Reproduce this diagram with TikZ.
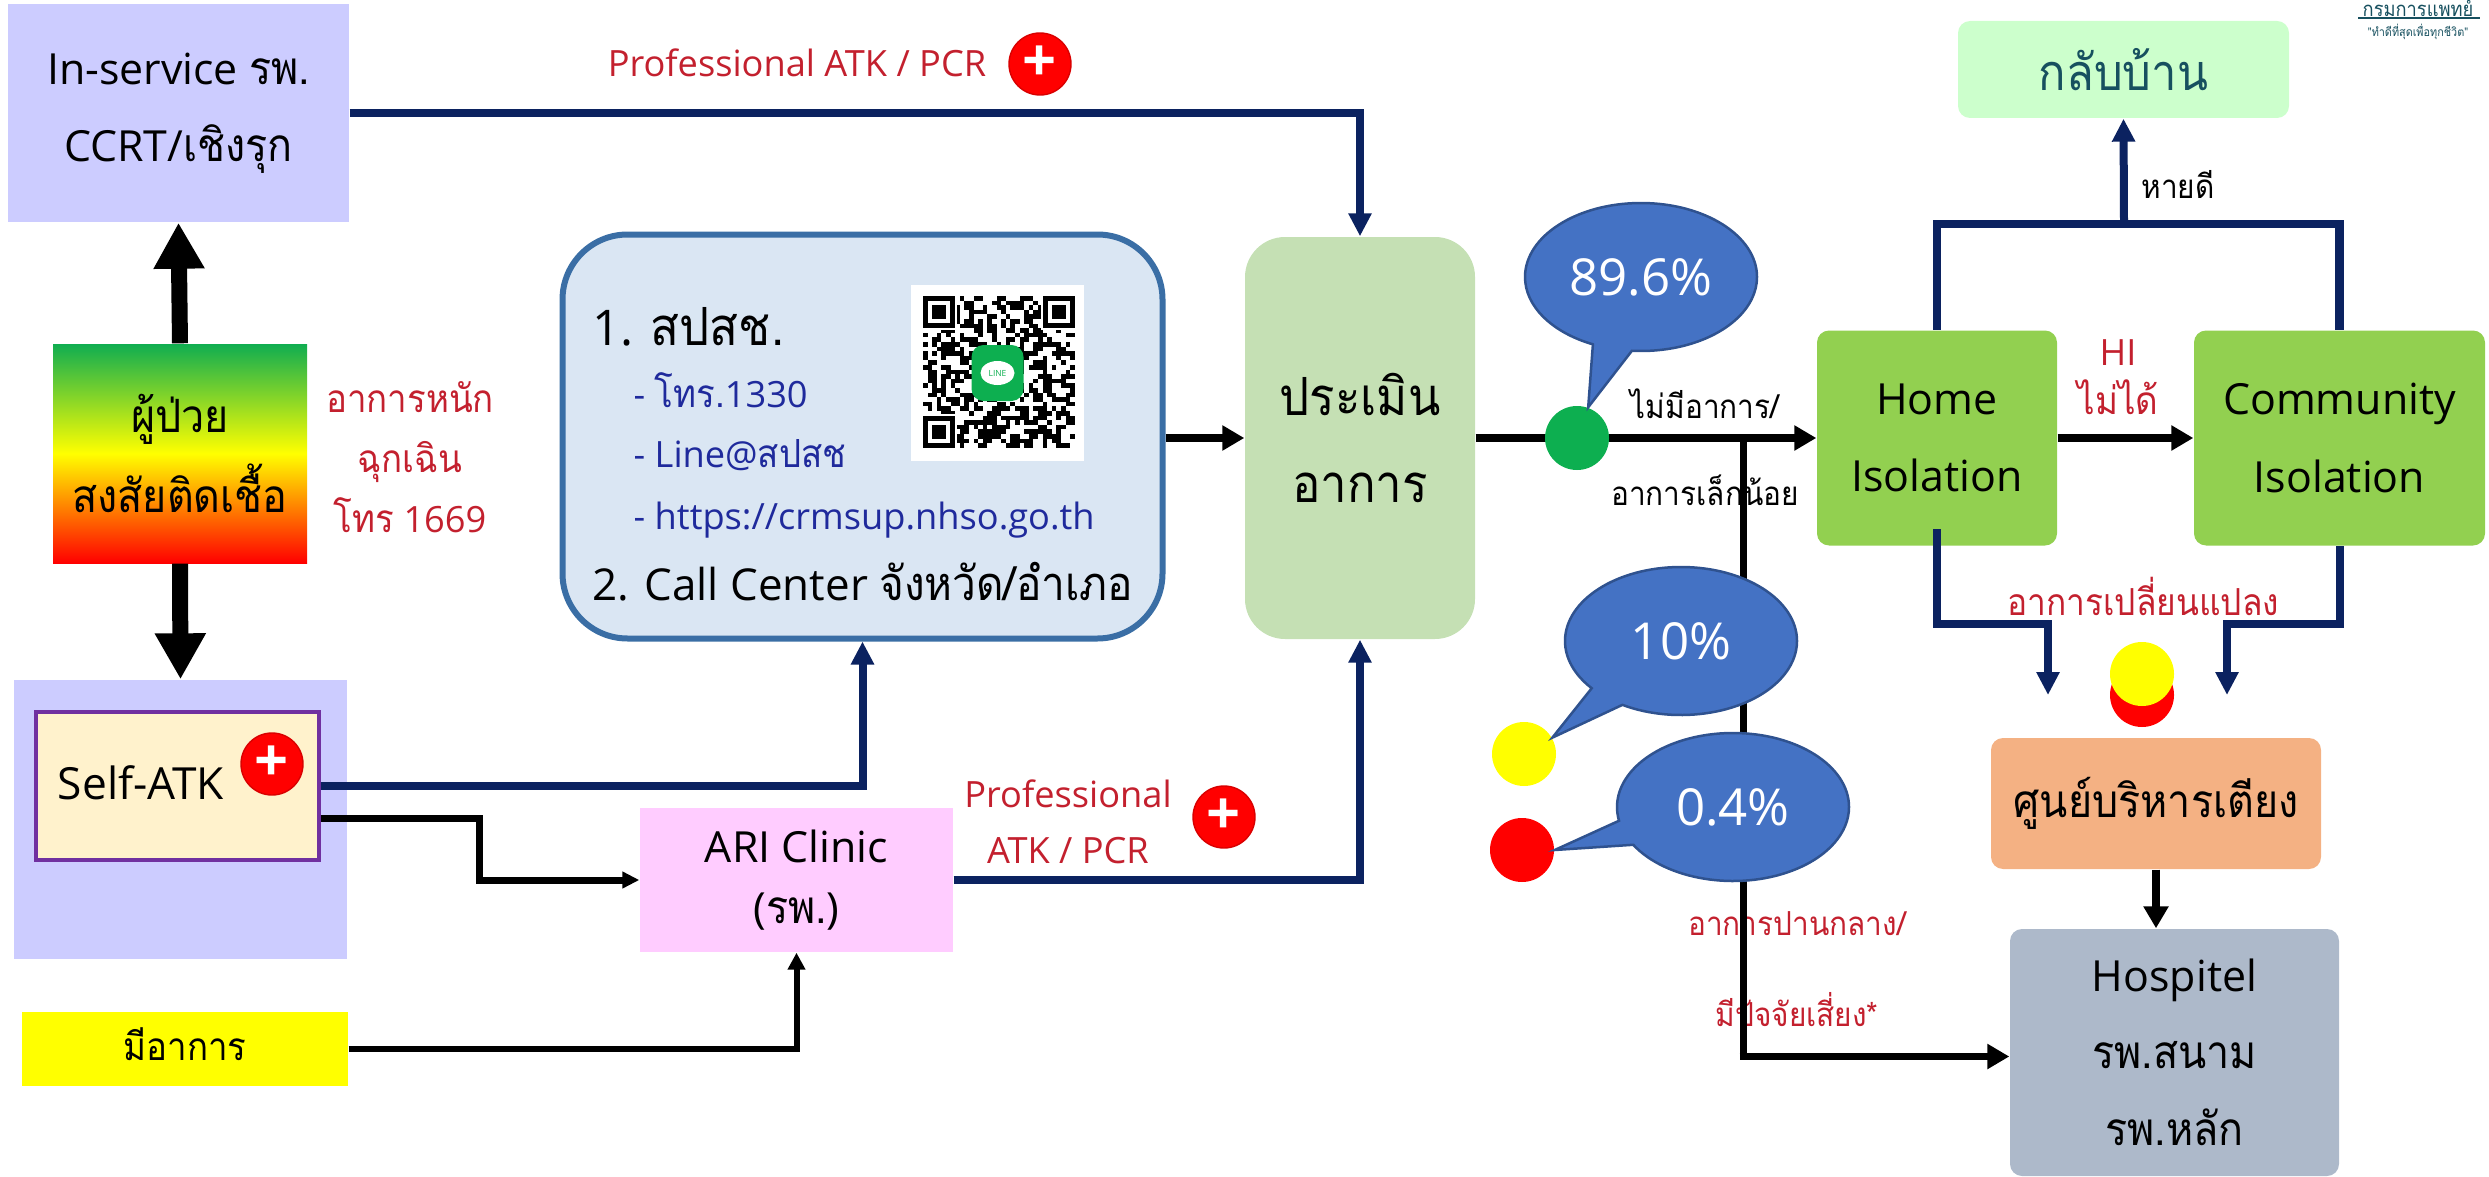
\documentclass[tikz,border=0pt]{standalone}
\usepackage{fontspec}
\usepackage{tikz}
\usetikzlibrary{arrows.meta}
\usetikzlibrary{shapes.geometric}
\usetikzlibrary{shapes.callouts}
\usetikzlibrary{calc}
\setmainfont{Open Sans}
\newfontfamily\thaifont[Script=Thai,Scale=1.07,FakeStretch=0.9]{Loma}
\newcommand{\tha}[1]{{\thaifont #1}}

\newcommand{\boxfont}{\fontsize{12.2}{22}\selectfont}
\newcommand{\bigfont}{\fontsize{14}{25}\selectfont}
\newcommand{\midfont}{\fontsize{10.3}{14}\selectfont}
\newcommand{\smallfont}{\fontsize{8.8}{14}\selectfont}

\definecolor{boxlilac}{HTML}{CCCCFF}
\definecolor{boxpink}{HTML}{FFCCFF}
\definecolor{boxcream}{HTML}{FFF2CC}
\definecolor{boxpurple}{HTML}{7030A0}
\definecolor{boxsage}{HTML}{C5E0B4}
\definecolor{boxgreen}{HTML}{92D050}
\definecolor{boxmint}{HTML}{CCFFCC}
\definecolor{boxorange}{HTML}{F4B183}
\definecolor{boxslate}{HTML}{ADB9CA}
\definecolor{callfill}{HTML}{DAE6F3}
\definecolor{calledge}{HTML}{3A6EA5}
\definecolor{bubblefill}{HTML}{4472C4}
\definecolor{bubbleedge}{HTML}{2F528F}
\definecolor{navyline}{HTML}{0B2260}
\definecolor{redtext}{HTML}{C3202E}
\definecolor{bluetext}{HTML}{1F2A9C}
\definecolor{tealtext}{HTML}{17505F}
\definecolor{dotgreen}{HTML}{0DAF50}
\definecolor{topgreen}{HTML}{10AD50}
\definecolor{pureyellow}{RGB}{255,255,0}
\definecolor{purered}{RGB}{255,0,0}

\tikzset{
  flowbox/.style={rectangle,inner sep=0pt,align=center,font=\boxfont},
  roundbox/.style={flowbox,rounded corners=1.2mm},
  redlabel/.style={inner sep=0pt,align=center,text=redtext,font=\midfont},
  darklabel/.style={inner sep=0pt,align=center,font=\smallfont},
  calltext/.style={inner sep=0pt,anchor=west,font=\boxfont},
  bluelabel/.style={inner sep=0pt,anchor=west,text=bluetext,font=\fontsize{10.3}{14}\selectfont},
  plusdot/.style={circle,fill=purered,draw=purered!85!black,inner sep=0pt,minimum size=6.2mm,text=white,font=\bfseries\fontsize{17}{17}\selectfont},
  statusdot/.style={circle,inner sep=0pt,minimum size=6.4mm},
  pctbubble/.style={ellipse callout,fill=bubblefill,draw=bubbleedge,line width=0.25mm,inner sep=0pt,
    minimum width=23.2mm,minimum height=14.8mm,callout pointer arc=20,text=white,font=\fontsize{14.5}{16}\selectfont},
  fatline/.style={line width=1.6mm,-{Triangle[length=4.6mm,width=4.8mm]}},
  navyarrow/.style={navyline,line width=0.8mm,-{Triangle[length=2.3mm,width=2.2mm]}},
  navyplain/.style={navyline,line width=0.85mm},
  blackarrow/.style={line width=0.75mm,-{Triangle[length=2.2mm,width=2.4mm]}},
  shortarrow/.style={line width=0.7mm,-{Triangle[length=1.7mm,width=1.6mm]}},
  thinarrow/.style={line width=0.6mm,-{Triangle[length=1.7mm,width=1.7mm]}}
}

\begin{document}
\begin{tikzpicture}[x=0.1mm,y=-0.1mm]
\useasboundingbox (0,0) rectangle (2489,1177);
\clip (0,0) rectangle (2489,1177);

% Draw the boxes on the left
\node[flowbox,fill=boxlilac,minimum width=34.1mm,minimum height=21.8mm](inservice) at (178.5,113){In-service \tha{รพ.}\\CCRT/\tha{เชิงรุก}};
\node[flowbox,minimum width=25.4mm,minimum height=21.9mm,top color=topgreen,bottom color=purered,middle color=pureyellow](patient) at (180,453.5){\tha{ผู้ป่วย}\\[1pt]\tha{สงสัยติดเชื้อ}};
\node[flowbox,fill=boxlilac,minimum width=33.3mm,minimum height=27.9mm](selfouter) at (180.5,819.5){};
\node[flowbox,fill=boxcream,draw=boxpurple,line width=0.35mm,minimum width=28.3mm,minimum height=14.8mm](selfatk) at (177.5,786){};
\node[inner sep=0pt,font=\fontsize{12.6}{16}\selectfont](selftext) at (141,783){Self-ATK};
\node[plusdot](selfplus) at (272,764){+};
\node[flowbox,fill=pureyellow,font=\midfont,minimum width=32.6mm,minimum height=7.4mm](symptom) at (185,1049){\raisebox{1mm}{\tha{มีอาการ}}};
\node[flowbox,fill=boxpink,minimum width=31.3mm,minimum height=14.4mm](ari) at (796.5,880){\raisebox{0.5mm}{ARI Clinic}\\[-4.5pt]\raisebox{0.5mm}{(\tha{รพ.})}};
\node[redlabel](emergency) at (410,457){\tha{อาการหนัก}\\[3pt]\tha{ฉุกเฉิน}\\[3pt]\tha{โทร} 1669};

% Draw the call centre box with its QR code
\node[rectangle,rounded corners=6.5mm,fill=callfill,draw=calledge,line width=0.6mm,inner sep=0pt,minimum width=60mm,minimum height=40.4mm](callbox) at (862.5,436.5){};
\node[calltext,font=\fontsize{14}{16}\selectfont](calltitle) at (592,327){1. \tha{สปสช.}};
\node[bluelabel](calltel) at (633,390){- \tha{โทร.}1330};
\node[bluelabel](callline) at (633,455){- Line@\tha{สปสช}};
\node[bluelabel](callweb) at (633,520){- https://crmsup.nhso.go.th};
\node[calltext,font=\fontsize{12.5}{16}\selectfont](callcenter) at (592,582){2. Call Center \tha{จังหวัด/อำเภอ}};
\node[rectangle,fill=white,inner sep=0pt,minimum width=17.3mm,minimum height=17.6mm](qrcode) at (997.5,373){};
\pgfmathsetseed{4242}
\foreach \col in {0,...,32}{
  \foreach \row in {0,...,32}{
    \pgfmathrandominteger{\bit}{0}{1}
    \ifnum\bit=1
      \fill (923+\col*4.6,296+\row*4.6) rectangle ++(4.6,4.6);
    \fi
  }
}
\foreach \fx/\fy in {923/296,1043/296,923/416}{
  \fill[white] (\fx-2,\fy-2) rectangle ++(36,36);
  \fill (\fx,\fy) rectangle ++(32,32);
  \fill[white] (\fx+4.6,\fy+4.6) rectangle ++(22.8,22.8);
  \fill (\fx+9.2,\fy+9.2) rectangle ++(13.6,13.6);
}
\node[rectangle,rounded corners=1.2mm,fill=dotgreen,minimum width=5.2mm,minimum height=5.6mm,inner sep=0pt](qrlogo) at (qrcode){};
\node[ellipse,fill=white,minimum width=3.4mm,minimum height=2.4mm,inner sep=0pt,text=dotgreen,font=\fontsize{2.4}{3}\selectfont](qrword) at (qrcode){LINE};

% Draw the boxes in the middle and on the right
\node[flowbox,rounded corners=4mm,fill=boxsage,font=\bigfont,minimum width=23mm,minimum height=40.2mm](assess) at (1360,438){\tha{ประเมิน}\\\tha{อาการ}};
\node[roundbox,fill=boxmint,text=tealtext,font=\fontsize{13.4}{16}\selectfont,minimum width=33.1mm,minimum height=9.7mm](gohome) at (2123.5,69.5){\tha{กลับบ้าน}};
\node[roundbox,fill=boxgreen,minimum width=24mm,minimum height=21.5mm](home) at (1937,438){Home\\Isolation};
\node[roundbox,fill=boxgreen,minimum width=29.1mm,minimum height=21.5mm](community) at (2339.5,438){Community\\Isolation};
\node[roundbox,fill=boxorange,minimum width=33mm,minimum height=13.1mm](bedcentre) at (2156,803.5){\tha{ศูนย์บริหารเตียง}};
\node[roundbox,fill=boxslate,minimum width=32.9mm,minimum height=24.7mm](hospitel) at (2174.5,1052.5){Hospitel\\\tha{รพ.สนาม}\\\tha{รพ.หลัก}};

% Draw the labels
\node[redlabel](topprof) at (797,63){Professional ATK / PCR};
\node[plusdot](topplus) at (1040,64){+};
\node[redlabel](ariprof) at (1068,822){Professional\\[2pt]ATK / PCR};
\node[plusdot](ariplus) at (1224,817){+};
\node[darklabel](mildup) at (1705,404){\tha{ไม่มีอาการ/}};
\node[darklabel](milddown) at (1705,490){\tha{อาการเล็กน้อย}};
\node[darklabel](recover) at (2178,184){\tha{หายดี}};
\node[redlabel](hifail) at (2118,377){HI\\\tha{ไม่ได้}};
\node[redlabel,font=\fontsize{9.9}{14}\selectfont](changed) at (2143,596){\tha{อาการเปลี่ยนแปลง}};
\node[redlabel,font=\smallfont](midcase) at (1797,924){\tha{อาการปานกลาง/}};
\node[redlabel,font=\smallfont](riskcase) at (1797,1010){\tha{มีปัจจัยเสี่ยง*}};

% Draw the small logo text
\node[inner sep=0pt,text=tealtext,font=\fontsize{5.4}{6}\selectfont](logoname) at (2418,8){\tha{กรมการแพทย์}};
\node[inner sep=0pt,text=tealtext,font=\fontsize{3.2}{4}\selectfont](logomotto) at (2418,32){\tha{"ทำดีที่สุดเพื่อทุกชีวิต"}};
\coordinate (logoleft) at (2358,18);
\coordinate (logoright) at (2480,18);
\draw[tealtext,line width=0.12mm] (logoleft) -- (logoright);

% Draw the edges between the boxes
\coordinate (selfbend) at (479,880);
\coordinate (split) at (1743,438);
\coordinate (upjoin) at (2124,224);
\coordinate (leftdrop) at (2048,624);
\coordinate (lefttip) at (2048,695);
\coordinate (rightdrop) at (2227,624);
\coordinate (righttip) at (2227,695);
\draw[fatline] (patient.north) -- (inservice.south);
\draw[fatline] (patient.south) -- (selfouter.north);
\draw[navyarrow] (inservice.east) -| (assess.north);
\draw[navyarrow] (selfatk.east) -| (callbox.south);
\draw[blackarrow] (callbox.east |- assess.west) -- (assess.west);
\draw[shortarrow] ($(selfatk.east)+(0,32)$) -| (selfbend) -- (ari.west);
\draw[thinarrow] (symptom.east) -| (ari.south);
\draw[navyarrow] (ari.east) -| (assess.south);
\draw[blackarrow] (assess.east) -- (home.west);
\draw[line width=0.7mm] (split) -- ($(split |- hospitel.west)+(0,4)$);
\draw[blackarrow] ($(split |- hospitel.west)+(-3.5,4)$) -- ($(hospitel.west)+(0,4)$);
\draw[blackarrow] (home.east) -- (community.west);
\draw[navyplain] (home.north) |- (upjoin);
\draw[navyplain] (community.north) |- (upjoin);
\draw[navyarrow] (upjoin) -- (gohome.south);
\draw[navyarrow] ($(home.south)+(0,-17)$) |- (leftdrop) -- (lefttip);
\draw[navyarrow] (community.south) |- (rightdrop) -- (righttip);
\draw[blackarrow] (bedcentre.south) -- (bedcentre.south |- hospitel.north);

% Draw the status dots and the bubbles
\node[statusdot,fill=dotgreen](greendot) at (1577,438){};
\node[statusdot,fill=pureyellow](yellowdot) at (1524,754){};
\node[statusdot,fill=purered](reddot) at (1522,850){};
\node[statusdot,fill=purered](bedred) at (2142,695){};
\node[statusdot,fill=pureyellow](bedyellow) at (2142,674){};
\node[pctbubble,callout absolute pointer={(greendot.70)}](bubblegreen) at (1641,277){\raisebox{-0.7mm}{89.6\%}};
\node[pctbubble,callout absolute pointer={(yellowdot.30)}](bubbleyellow) at (1681,641){\raisebox{-0.7mm}{10\%}};
\node[pctbubble,callout absolute pointer={(reddot.east)}](bubblered) at (1733,807){\raisebox{-0.7mm}{0.4\%}};
\end{tikzpicture}
\end{document}
